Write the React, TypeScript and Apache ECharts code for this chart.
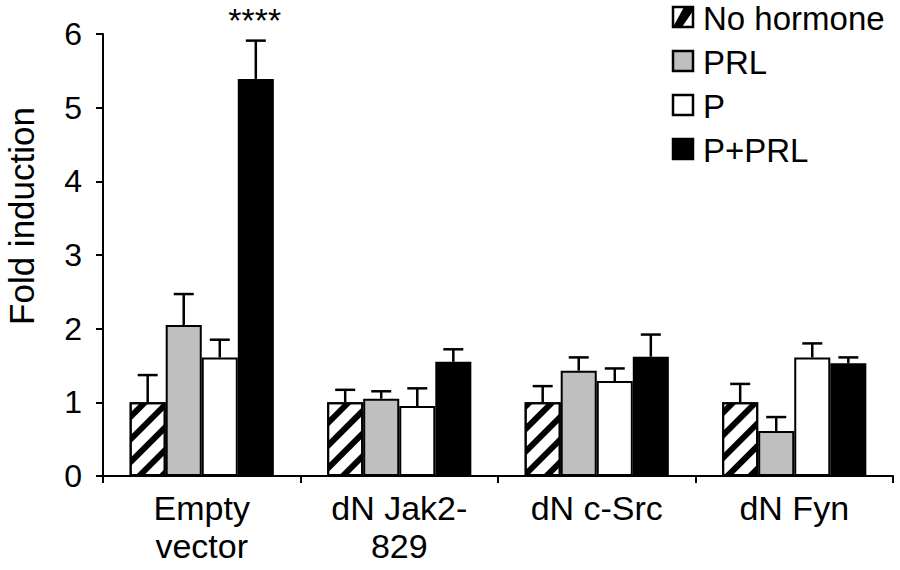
import React, { useEffect, useRef } from "react";
import * as echarts from "echarts";

const categories = ["Empty\nvector", "dN Jak2-\n829", "dN c-Src", "dN Fyn"];
const seriesNames = ["No hormone", "PRL", "P", "P+PRL"];
const noHormone = [1.0, 1.0, 1.0, 1.0];
const prl = [2.05, 1.05, 1.43, 0.61];
const prog = [1.61, 0.95, 1.29, 1.61];
const progPrl = [5.39, 1.55, 1.62, 1.53];
const noHormoneErr = [0.37, 0.17, 0.22, 0.25];
const prlErr = [0.42, 0.1, 0.18, 0.19];
const progErr = [0.24, 0.24, 0.17, 0.19];
const progPrlErr = [0.52, 0.17, 0.3, 0.08];
const progPrlMarks = ["****", "", "", ""];
const yTicks = [0, 1, 2, 3, 4, 5, 6];
const yAxisTitle = "Fold induction";

const values = [noHormone, prl, prog, progPrl];
const errors = [noHormoneErr, prlErr, progErr, progPrlErr];
const marks = [["", "", "", ""], ["", "", "", ""], ["", "", "", ""], progPrlMarks];
const fills = ["#ffffff", "#bfbfbf", "#ffffff", "#000000"];
const CAT_GAP = 0.27;
const FONT = "Liberation Sans, Arial, Helvetica, sans-serif";

export default function App() {
  const ref = useRef<HTMLDivElement>(null);
  useEffect(() => {
    document.body.style.margin = "0";
    const chart = echarts.init(ref.current!, null, { renderer: "svg" });
    const barSeries = seriesNames.map((name, i) => ({
      name,
      type: "bar",
      data: values[i],
      barGap: "0%",
      barCategoryGap: (CAT_GAP * 100) + "%",
      itemStyle: {
        color: fills[i],
        borderColor: "#000",
        borderWidth: 2,
        ...(i === 0
          ? {
              decal: {
                symbol: "rect",
                symbolSize: 1,
                color: "#000",
                dashArrayX: [1, 0],
                dashArrayY: [6, 10],
                rotation: -Math.PI / 4,
              },
            }
          : {}),
      },
      z: 2,
    }));
    const errSeries = seriesNames.map((name, i) => ({
      name: name + " err",
      type: "custom",
      data: values[i].map((v, k) => [k, v, v + errors[i][k]]),
      z: 3,
      silent: true,
      renderItem: (params: any, api: any) => {
        const k = api.value(0);
        const v = api.value(1);
        const top = api.value(2);
        const band = api.size([1, 0])[0];
        const barW = (band * (1 - CAT_GAP)) / 4;
        const base = api.coord([k, v]);
        const x = base[0] + (i - 1.5) * barW;
        const y0 = base[1];
        const y1 = api.coord([k, top])[1];
        const cap = 10;
        const children: any[] = [
          { type: "line", shape: { x1: x, y1: y0, x2: x, y2: y1 }, style: { stroke: "#000", lineWidth: 2.5 } },
          { type: "line", shape: { x1: x - cap, y1: y1, x2: x + cap, y2: y1 }, style: { stroke: "#000", lineWidth: 2.5 } },
        ];
        const mark = marks[i][k];
        if (mark) {
          children.push({
            type: "text",
            style: { text: mark, x: x - 1, y: y1 - 38, align: "center", verticalAlign: "top", fontSize: 34, fontFamily: FONT, fill: "#000" },
          });
        }
        return { type: "group", children };
      },
    }));

    const graphics: any[] = [];
    const lx = 673, ly0 = 7, lstep = 44, box = 20;
    seriesNames.forEach((name, i) => {
      const y = ly0 + i * lstep;
      graphics.push({
        type: "rect",
        shape: { x: lx, y, width: box, height: box },
        style: { fill: fills[i], stroke: "#000", lineWidth: 2.5 },
      });
      if (i === 0) {
        graphics.push({
          type: "polygon",
          shape: { points: [[lx, y + box], [lx + box * 0.55, y], [lx + box, y], [lx + box, y + box * 0.2], [lx + box * 0.45, y + box]] },
          style: { fill: "#000" },
        });
      }
      graphics.push({
        type: "text",
        style: { text: name, x: lx + box + 10, y: y + box / 2 + 1, verticalAlign: "middle", fontSize: 33, fontFamily: FONT, fill: "#000" },
      });
    });
    graphics.push({
      type: "text",
      x: 21,
      y: 216,
      rotation: Math.PI / 2,
      style: { text: yAxisTitle, x: 0, y: 0, align: "center", verticalAlign: "middle", fontSize: 35, fontFamily: FONT, fill: "#000" },
    });

    chart.setOption({
      animation: false,
      backgroundColor: "#fff",
      grid: { left: 103, right: 7, top: 34, bottom: 94, containLabel: false },
      xAxis: {
        type: "category",
        data: categories,
        axisLine: { lineStyle: { color: "#000", width: 2 } },
        axisTick: { show: true, length: 7, lineStyle: { color: "#000", width: 2 } },
        axisLabel: { color: "#000", fontSize: 34, fontFamily: FONT, margin: 13, lineHeight: 38, interval: 0 },
      },
      yAxis: {
        type: "value",
        min: 0,
        max: 6,
        interval: 1,
        axisLine: { show: true, lineStyle: { color: "#000", width: 2 } },
        axisTick: { show: true, length: 7, lineStyle: { color: "#000", width: 2 } },
        axisLabel: {
          color: "#000",
          fontSize: 32,
          fontFamily: FONT,
          margin: 21,
          formatter: (v: number) => (yTicks.includes(v) ? String(v) : ""),
        },
        splitLine: { show: false },
      },
      series: [...barSeries, ...errSeries],
      graphic: graphics,
    });
    return () => chart.dispose();
  }, []);
  return <div ref={ref} style={{ width: 900, height: 570 }} />;
}
